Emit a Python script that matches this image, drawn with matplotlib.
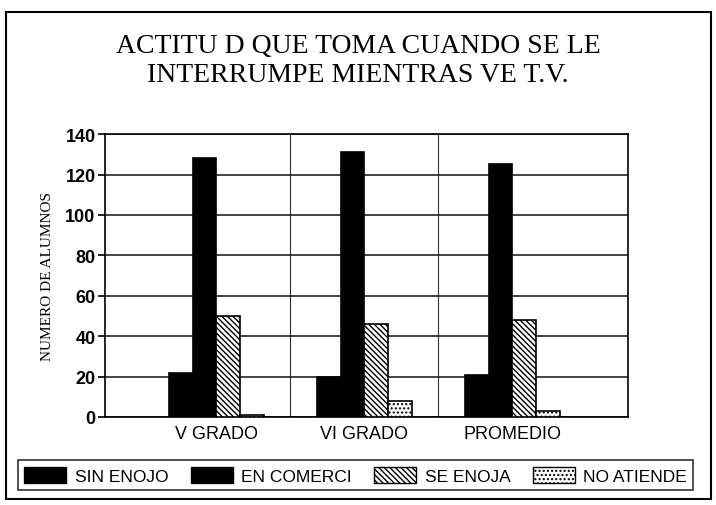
import matplotlib.pyplot as plt
import numpy as np
from matplotlib.patches import Rectangle, Patch

# data
grados = ['V GRADO', 'VI GRADO', 'PROMEDIO']
series = ['SIN ENOJO', 'EN COMERCI', 'SE ENOJA', 'NO ATIENDE']
sin_enojo = [22, 20, 21]
en_comerci = [128, 131, 125]
se_enoja = [50, 46, 48]
no_atiende = [1, 8, 3]
yticks = [0, 20, 40, 60, 80, 100, 120, 140]

values = [sin_enojo, en_comerci, se_enoja, no_atiende]
faces = ['black', 'black', 'white', 'white']
hatches = [None, None, '\\\\\\\\\\\\', '....']

fig = plt.figure(figsize=(7.16, 5.06), dpi=100)
ax = fig.add_axes([0.147, 0.174, 0.730, 0.559])

x = np.arange(len(grados))
w = 0.16
for i in range(len(series)):
    ax.bar(x + (i - 1.5) * w, values[i], width=w, color=faces[i],
           edgecolor='black', hatch=hatches[i], linewidth=1.2,
           label=series[i], zorder=3)

ax.set_xlim(-0.75, 2.78)
ax.set_ylim(0, 140)
ax.set_yticks(yticks)
ax.set_yticklabels([str(t) for t in yticks], fontsize=13, fontweight='bold',
                   family='Liberation Sans')
ax.set_xticks(x)
ax.set_xticklabels(grados, fontsize=13, family='Liberation Sans')
ax.tick_params(axis='x', length=0, pad=6)
ax.tick_params(axis='y', length=5, width=1.2, direction='out', pad=2)

ax.grid(axis='y', color='#111111', linewidth=1.1, zorder=0)
for b in [0.5, 1.5]:
    ax.axvline(b, color='#333333', linewidth=0.8, zorder=0)
for s in ax.spines.values():
    s.set_linewidth(1.2)

ax.set_ylabel('NUMERO DE ALUMNOS', family='Liberation Serif', fontsize=11,
              labelpad=8)

fig.text(0.5, 0.908, 'ACTITU D QUE TOMA CUANDO SE LE', ha='center', va='center',
         family='Liberation Serif', fontsize=20)
fig.text(0.5, 0.850, 'INTERRUMPE MIENTRAS VE T.V.', ha='center', va='center',
         family='Liberation Serif', fontsize=20)

# outer frame
fig.patches.append(Rectangle((0.008, 0.012), 0.985, 0.962, transform=fig.transFigure,
                             fill=False, edgecolor='black', linewidth=1.5))

handles = [Patch(facecolor=faces[i], edgecolor='black', hatch=hatches[i])
           for i in range(len(series))]
leg = fig.legend(handles, series, loc='center', bbox_to_anchor=(0.497, 0.059),
                 ncol=4, frameon=True, fancybox=False, edgecolor='black',
                 handlelength=2.4, handleheight=1.1, handletextpad=0.5,
                 columnspacing=1.3,
                 prop={'family': 'Liberation Sans', 'size': 12.5},
                 borderpad=0.35, borderaxespad=0)
leg.get_frame().set_linewidth(1.2)

fig.savefig('out.png', dpi=100)
